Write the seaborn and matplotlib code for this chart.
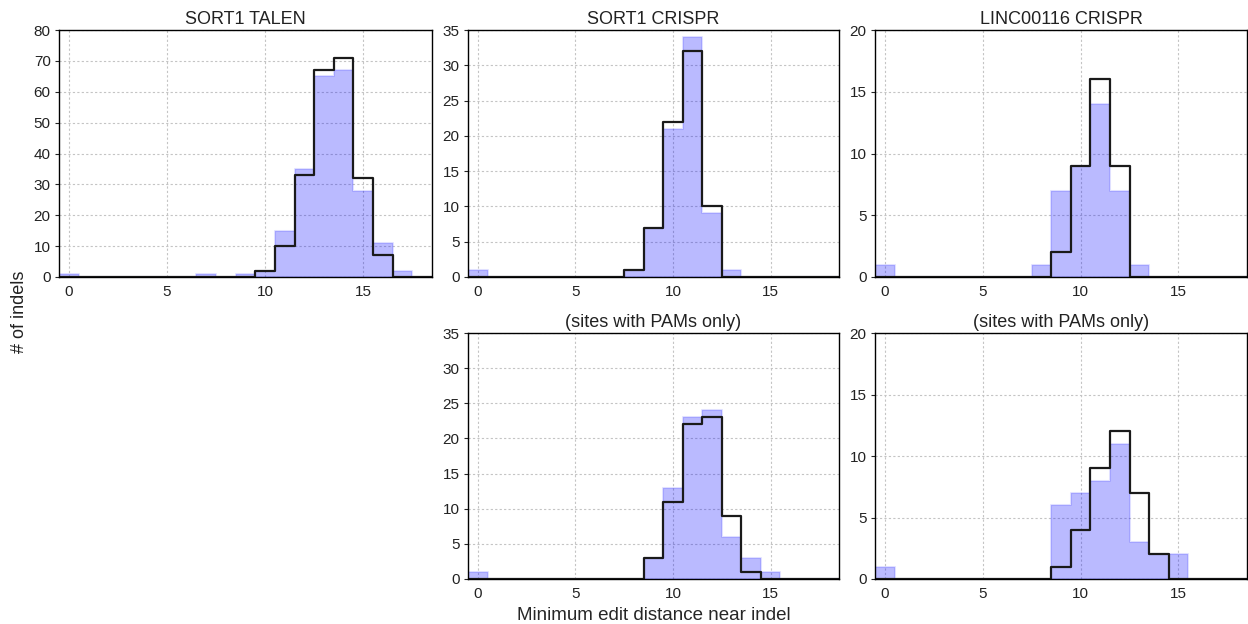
import numpy as np
import pandas as pd
import matplotlib
matplotlib.use("Agg")
import matplotlib.pyplot as plt
import seaborn as sns

# Edit distance values (bin centres) 0..18
distances = list(range(19))

# counts per edit distance: (blue = filled, black = outline)
talen_blue  = [1,0,0,0,0,0,0,1,0,1,2,15,35,65,67,28,11,2,0]
talen_black = [0,0,0,0,0,0,0,0,0,0,2,10,33,67,71,32,7,0,0]

sort1_blue  = [1,0,0,0,0,0,0,0,1,7,21,34,9,1,0,0,0,0,0]
sort1_black = [0,0,0,0,0,0,0,0,1,7,22,32,10,0,0,0,0,0,0]

linc_blue   = [1,0,0,0,0,0,0,0,1,7,9,14,7,1,0,0,0,0,0]
linc_black  = [0,0,0,0,0,0,0,0,0,2,9,16,9,0,0,0,0,0,0]

sort1_pam_blue  = [1,0,0,0,0,0,0,0,0,3,13,23,24,6,3,1,0,0,0]
sort1_pam_black = [0,0,0,0,0,0,0,0,0,3,11,22,23,9,1,0,0,0,0]

linc_pam_blue   = [1,0,0,0,0,0,0,0,0,6,7,8,11,3,2,2,0,0,0]
linc_pam_black  = [0,0,0,0,0,0,0,0,0,1,4,9,12,7,2,0,0,0,0]

titles = ["SORT1 TALEN", "SORT1 CRISPR", "LINC00116 CRISPR",
          "(sites with PAMs only)", "(sites with PAMs only)"]
ylims = [80, 35, 20, 35, 20]
ysteps = [10, 5, 5, 5, 5]
xticks = [0, 5, 10, 15]

sns.set_style("white")
plt.rcParams["font.family"] = ["Liberation Sans", "DejaVu Sans"]
plt.rcParams["text.color"] = "#222222"
plt.rcParams["xtick.labelcolor"] = "#222222"
plt.rcParams["ytick.labelcolor"] = "#222222"

fig = plt.figure(figsize=(12.48, 6.24), dpi=100)
W, H = 1248.0, 624.0

def ax_at(l, r, t, b):
    return fig.add_axes([l / W, 1 - b / H, (r - l) / W, (b - t) / H])

axes = [
    ax_at(59, 432, 30, 277),
    ax_at(468, 839, 30, 277),
    ax_at(875, 1247, 30, 277),
    ax_at(468, 839, 333, 579),
    ax_at(875, 1247, 333, 579),
]

blues = [talen_blue, sort1_blue, linc_blue, sort1_pam_blue, linc_pam_blue]
blacks = [talen_black, sort1_black, linc_black, sort1_pam_black, linc_pam_black]

for ax, title, b, k, ym, ys in zip(axes, titles, blues, blacks, ylims, ysteps):
    df = pd.DataFrame({"d": distances, "blue": b, "black": k})
    sns.histplot(data=df, x="d", weights="blue", discrete=True, binrange=(0, 18),
                 element="step", fill=True, color="blue", alpha=0.27,
                 edgecolor=(0, 0, 1, 0.12), linewidth=1.5, ax=ax)
    sns.histplot(data=df, x="d", weights="black", discrete=True, binrange=(0, 18),
                 element="step", fill=False, color="#1a1a1a", linewidth=1.6, ax=ax)
    ax.set_xlim(-0.5, 18.5)
    ax.set_ylim(0, ym)
    ax.set_xticks(xticks)
    ax.set_yticks(np.arange(0, ym + 0.1, ys))
    ax.grid(True, linestyle=(0, (2, 2)), color="#c4c4c4", linewidth=0.8)
    ax.set_axisbelow(True)
    ax.set_title(title, fontsize=13, pad=4)
    ax.set_ylabel("")
    ax.set_xlabel("")
    ax.tick_params(axis="y", direction="out", length=3, width=0.8, left=True,
                   right=False, labelsize=11, pad=3)
    ax.tick_params(axis="x", length=0, top=False, bottom=False, labelsize=11, pad=6)
    for s in ax.spines.values():
        s.set_visible(True)
        s.set_color("black")
        s.set_linewidth(1.0)

axes[3].set_xlabel("Minimum edit distance near indel", fontsize=13.5, labelpad=4)
fig.text(20 / W, 0.5, "# of indels", rotation=90, fontsize=13, va="center", ha="center")

fig.savefig("out.png", dpi=100)
